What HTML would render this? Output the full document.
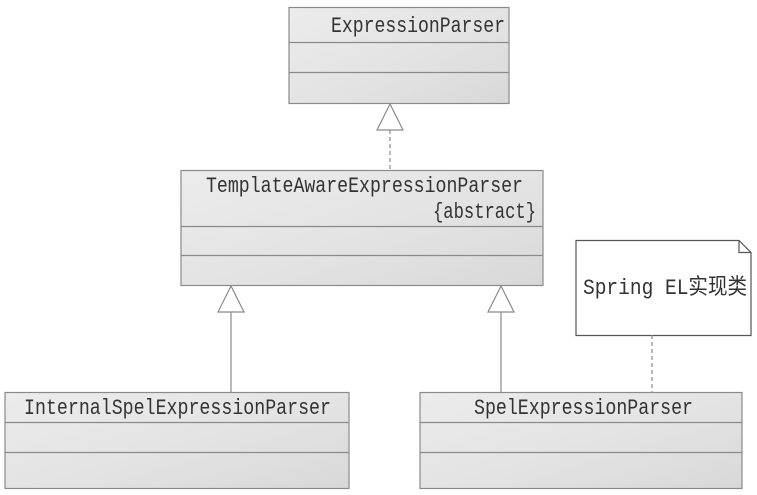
<!DOCTYPE html>
<html><head><meta charset="utf-8"><style>html,body{margin:0;padding:0;background:#fff}svg{display:block}</style></head>
<body>
<svg width="757" height="495" viewBox="0 0 757 495" xmlns="http://www.w3.org/2000/svg" font-family="Liberation Mono, Noto Sans CJK SC, monospace" font-size="22" fill="#333">
<defs>
<linearGradient id="g" x1="0" y1="0" x2="1" y2="1">
<stop offset="0" stop-color="#ececec"/><stop offset="0.6" stop-color="#e2e2e2"/><stop offset="1" stop-color="#d8d8d8"/>
</linearGradient>
</defs>
<g stroke="#8a8a8a" stroke-width="1.2">
<rect x="289" y="7.5" width="220" height="96" fill="url(#g)"/>
<line x1="289" y1="42.5" x2="509" y2="42.5"/><line x1="289" y1="72.5" x2="509" y2="72.5"/>
<rect x="181" y="170.5" width="362" height="115" fill="url(#g)"/>
<line x1="181" y1="226.5" x2="543" y2="226.5"/><line x1="181" y1="255.5" x2="543" y2="255.5"/>
<rect x="5" y="392.5" width="344" height="96" fill="url(#g)"/>
<line x1="5" y1="422.5" x2="349" y2="422.5"/><line x1="5" y1="452.5" x2="349" y2="452.5"/>
<rect x="420" y="392.5" width="322" height="96" fill="url(#g)"/>
<line x1="420" y1="422.5" x2="742" y2="422.5"/><line x1="420" y1="452.5" x2="742" y2="452.5"/>
<path d="M576 240.5 H739 L751 252.5 V335.5 H576 Z" fill="#fff" stroke="#555"/>
<path d="M739 240.5 V252.5 H751" fill="none" stroke="#555"/>
<line x1="390" y1="130" x2="390" y2="170" stroke-dasharray="4,3"/>
<line x1="652" y1="335" x2="652" y2="392" stroke-dasharray="4,3"/>
<polygon points="390,104 377,130 403,130" fill="#fff"/>
<line x1="231" y1="312" x2="231" y2="392"/>
<polygon points="231,286 218,312 244,312" fill="#fff"/>
<line x1="501" y1="312" x2="501" y2="392"/>
<polygon points="501,286 488,312 514,312" fill="#fff"/>
</g>
<text x="331" y="32" textLength="174" lengthAdjust="spacingAndGlyphs">ExpressionParser</text>
<text x="206" y="192" textLength="317" lengthAdjust="spacingAndGlyphs">TemplateAwareExpressionParser</text>
<text x="433" y="218" textLength="103" lengthAdjust="spacingAndGlyphs">{abstract}</text>
<text x="24" y="414" textLength="307" lengthAdjust="spacingAndGlyphs">InternalSpelExpressionParser</text>
<text x="474" y="414" textLength="219" lengthAdjust="spacingAndGlyphs">SpelExpressionParser</text>
<text x="583" y="294" textLength="164" lengthAdjust="spacingAndGlyphs">Spring EL实现类</text>
</svg>
</body></html>
